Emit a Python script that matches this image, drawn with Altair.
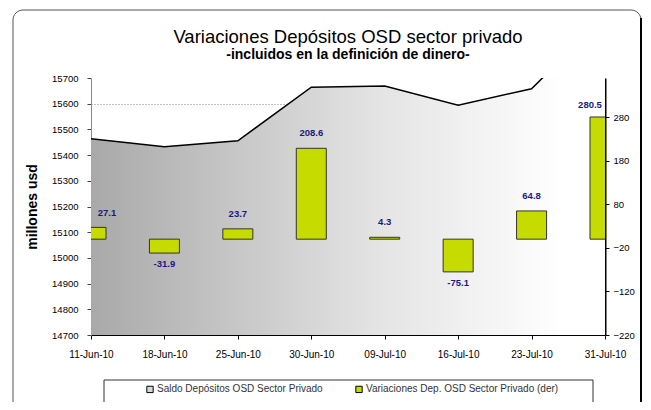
import altair as alt
import pandas as pd

fechas = ["11-Jun-10", "18-Jun-10", "25-Jun-10", "30-Jun-10",
          "09-Jul-10", "16-Jul-10", "23-Jul-10", "31-Jul-10"]
saldo = [15464.0, 15432.1, 15455.8, 15664.4, 15668.7, 15593.6, 15658.4, 15938.9]
variaciones = [27.1, -31.9, 23.7, 208.6, 4.3, -75.1, 64.8, 280.5]
etiquetas = ["27.1", "-31.9", "23.7", "208.6", "4.3", "-75.1", "64.8", "280.5"]
serie_saldo = "Saldo Depósitos OSD Sector Privado"
serie_var = "Variaciones Dep. OSD Sector Privado (der)"
ticks_izq = list(range(14700, 15701, 100))
ticks_der = [-220, -120, -20, 80, 180, 280]

df = pd.DataFrame({
    "fecha": fechas,
    "saldo": saldo,
    "var": variaciones,
    "etiqueta": etiquetas,
    "idx": list(range(len(fechas))),
    "serie": serie_var,
})

FONT = "Liberation Sans"

x_enc = alt.X("fecha:N", sort=fechas,
              scale=alt.Scale(type="point", padding=0),
              axis=alt.Axis(title=None, labelAngle=0, labelFontSize=10,
                            labelPadding=10, tickSize=4, domainColor="black",
                            tickColor="black", labelColor="black"))

y_izq_scale = alt.Scale(domain=[14700, 15700], zero=False, nice=False)
y_der_scale = alt.Scale(domain=[-220, 370], zero=False, nice=False)

gradient = alt.Gradient(
    gradient="linear",
    stops=[alt.GradientStop(color="#a9a9a9", offset=0),
           alt.GradientStop(color="#e3e3e3", offset=0.55),
           alt.GradientStop(color="#ffffff", offset=0.92)],
    x1=0, x2=1, y1=0, y2=0)

area = alt.Chart(df).mark_area(clip=True, color=gradient).encode(
    x=x_enc,
    y=alt.Y("saldo:Q", scale=y_izq_scale,
            axis=alt.Axis(values=ticks_izq, format="d", title="millones usd",
                          grid=True, gridDash=[1, 2], gridColor="#666",
                          gridWidth=0.8,
                          gridOpacity=alt.condition(
                              "(datum.value - 14600) % 200 != 0",
                              alt.value(0), alt.value(1)),
                          tickSize=4, labelPadding=9, domainColor="#888",
                          tickColor="#444", labelFontSize=9.5,
                          titleFontSize=14, titleFontWeight="bold",
                          titlePadding=12, titleColor="black")),
    y2=alt.datum(14700),
)

linea = alt.Chart(df).mark_line(clip=True, color="black", strokeWidth=1.5).encode(
    x=x_enc,
    y=alt.Y("saldo:Q", scale=y_izq_scale, axis=None),
)

bars = alt.Chart(df).mark_bar(size=30, clip=True, stroke="#333", strokeWidth=1).encode(
    x=x_enc,
    y=alt.Y("var:Q", scale=y_der_scale,
            axis=alt.Axis(orient="right", values=ticks_der, title=None, grid=False,
                          domainWidth=2, domainColor="black", tickColor="black",
                          tickSize=4, labelPadding=4, labelFontSize=9.5)),
    y2=alt.datum(0),
    color=alt.Color("serie:N",
                    scale=alt.Scale(domain=[serie_saldo, serie_var],
                                    range=["#d8d8d8", "#c6dc00"]),
                    legend=alt.Legend(title=None, orient="none", legendX=54,
                                      legendY=306, direction="horizontal",
                                      symbolType="square", symbolSize=40,
                                      symbolStrokeColor="black",
                                      symbolStrokeWidth=1, labelFontSize=10,
                                      labelColor="#333", labelFont=FONT,
                                      columnPadding=30, padding=0,
                                      labelLimit=300, labelOffset=2)),
)


def etiquetas_capa(filtro, dy, dx=0):
    return alt.Chart(df).transform_filter(filtro).mark_text(
        dy=dy, dx=dx, fontSize=9.5, fontWeight="bold", color="#1a1a80",
        font=FONT, baseline="middle").encode(
        x=x_enc,
        y=alt.Y("var:Q", scale=y_der_scale, axis=None),
        text="etiqueta:N",
    )


t_pos = etiquetas_capa("datum.var >= 0 && datum.idx > 0 && datum.idx < 7", -15)
t_neg = etiquetas_capa("datum.var < 0", 11)
t_first = etiquetas_capa("datum.idx == 0", -14, 16)
t_last = etiquetas_capa("datum.idx == 7", -12, -15)

marco_df = pd.DataFrame({"k": [0]})
marco = alt.Chart(marco_df).mark_rect(fill=None, stroke="#555", strokeWidth=1,
                                      cornerRadius=10).encode(
    x=alt.value(-78), x2=alt.value(550), y=alt.value(-68), y2=alt.value(345))
borde_der = alt.Chart(marco_df).mark_rule(stroke="black", strokeWidth=2).encode(
    x=alt.value(550), y=alt.value(-60), y2=alt.value(345))
caja_leyenda = alt.Chart(marco_df).mark_rect(fill=None, stroke="#333",
                                             strokeWidth=1).encode(
    x=alt.value(13), x2=alt.value(502), y=alt.value(302), y2=alt.value(327))

chart = alt.layer(
    area, linea, bars, t_pos, t_neg, t_first, t_last, marco, borde_der, caja_leyenda
).resolve_scale(y="independent").properties(
    width=514, height=257,
    padding={"left": 83, "top": 70, "right": 38, "bottom": 67},
    autosize=alt.AutoSizeParams(type="none"),
    title=alt.TitleParams(
        text="Variaciones Depósitos OSD sector privado",
        subtitle="-incluidos en la definición de dinero-",
        font=FONT, fontSize=18.5, fontWeight="normal", color="black",
        subtitleFont=FONT, subtitleFontSize=14, subtitleFontWeight="bold",
        subtitleColor="black", anchor="middle", offset=0, dy=52,
        subtitlePadding=1),
).configure_view(stroke=None).configure_axis(
    labelFont=FONT, titleFont=FONT, labelColor="black"
)

chart.save("out.html", embed_options={"renderer": "svg", "actions": False})
